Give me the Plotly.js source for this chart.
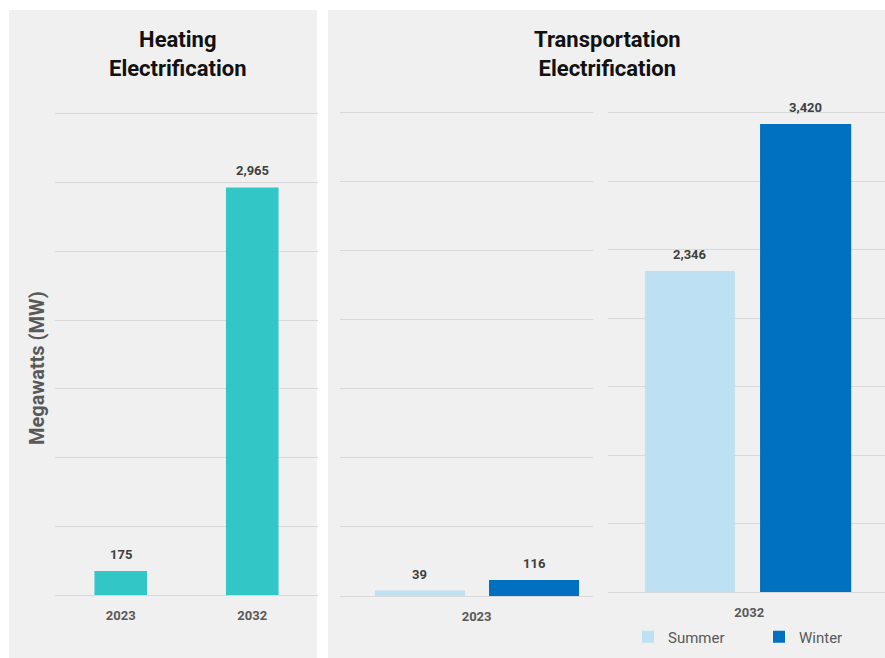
<!DOCTYPE html>
<html>
<head>
<meta charset="utf-8">
<script src="https://cdn.plot.ly/plotly-3.0.1.min.js"></script>
<style>
html,body{margin:0;padding:0;background:#fff;overflow:hidden;}
#chart{display:block;width:885px;height:658px;}
</style>
</head>
<body>
<div id="chart"></div>
<script>
// ---- data ----
const heatingYears = ['2023', '2032'];
const heatingMW = [175, 2965];
const transportYears = ['2023', '2032'];
const summerMW = [39, 2346];
const winterMW = [116, 3420];
const seriesNames = ['Summer', 'Winter'];
const panelTitles = ['Heating<br>Electrification', 'Transportation<br>Electrification'];
const yTitle = 'Megawatts (MW)';

// ---- styling helpers ----
const W = 885, H = 658;
const px = x => x / W;
const py = y => 1 - y / H;
const FONT = 'Roboto, "Open Sans", sans-serif';
const TEAL = '#33C6C6', SUMMER = '#BDE0F3', WINTER = '#0070C0';
const GRID = '#d9d9d9';

// bar geometry (style)
const heatWidth = 0.4;
const g2 = {sOff: -0.402, sW: 0.356, wOff: 0.049, wW: 0.356};
const g3 = {sOff: -0.377, sW: 0.325, wOff: 0.039, wW: 0.329};

const traces = [
  {type: 'bar', x: heatingYears, y: heatingMW, xaxis: 'x', yaxis: 'y', width: heatWidth,
   marker: {color: TEAL}, showlegend: false},
  {type: 'bar', x: [transportYears[0]], y: [summerMW[0]], xaxis: 'x2', yaxis: 'y2',
   offset: g2.sOff, width: g2.sW, marker: {color: SUMMER}, name: seriesNames[0], legendgroup: 's', showlegend: false},
  {type: 'bar', x: [transportYears[0]], y: [winterMW[0]], xaxis: 'x2', yaxis: 'y2',
   offset: g2.wOff, width: g2.wW, marker: {color: WINTER}, name: seriesNames[1], legendgroup: 'w', showlegend: false},
  {type: 'bar', x: [transportYears[1]], y: [summerMW[1]], xaxis: 'x3', yaxis: 'y3',
   offset: g3.sOff, width: g3.sW, marker: {color: SUMMER}, name: seriesNames[0], legendgroup: 's'},
  {type: 'bar', x: [transportYears[1]], y: [winterMW[1]], xaxis: 'x3', yaxis: 'y3',
   offset: g3.wOff, width: g3.wW, marker: {color: WINTER}, name: seriesNames[1], legendgroup: 'w'}
];

const fmt = v => v.toLocaleString('en-US');
const valFont = {family: FONT, size: 13, color: '#404040', weight: 'bold'};
const valueAnn = (x, y, xref, yref) => ({x, y, xref, yref, text: fmt(y), showarrow: false,
  yanchor: 'bottom', yshift: 7, font: valFont});

const annotations = [];
// category axes: positions given by category index
heatingYears.forEach((c, i) => annotations.push(valueAnn(i, heatingMW[i], 'x', 'y')));
annotations.push(valueAnn(g2.sOff + g2.sW / 2, summerMW[0], 'x2', 'y2'));
annotations.push(valueAnn(g2.wOff + g2.wW / 2, winterMW[0], 'x2', 'y2'));
annotations.push(valueAnn(g3.sOff + g3.sW / 2, summerMW[1], 'x3', 'y3'));
annotations.push(valueAnn(g3.wOff + g3.wW / 2, winterMW[1], 'x3', 'y3'));

const titleFont = {family: FONT, size: 22, color: '#111', weight: 'bold'};
annotations.push({text: panelTitles[0], xref: 'paper', yref: 'paper', x: px(178), y: py(54),
  showarrow: false, font: titleFont, align: 'center', xanchor: 'center', yanchor: 'middle'});
annotations.push({text: panelTitles[1], xref: 'paper', yref: 'paper', x: px(607), y: py(54),
  showarrow: false, font: titleFont, align: 'center', xanchor: 'center', yanchor: 'middle'});
annotations.push({text: yTitle, xref: 'paper', yref: 'paper', x: px(37), y: py(368), textangle: -90,
  showarrow: false, font: {family: FONT, size: 20, color: '#595959', weight: 'bold'}, xanchor: 'center', yanchor: 'middle'});

const tickFont = {family: FONT, size: 13, color: '#595959', weight: 'bold'};
const xBase = {type: 'category', showgrid: false, zeroline: false, showline: false, ticks: '',
  tickfont: tickFont, ticklabelstandoff: 11, fixedrange: true};
const yBase = {range: [0, 3520], tickvals: [0, 500, 1000, 1500, 2000, 2500, 3000, 3500], showticklabels: false,
  showgrid: true, gridcolor: GRID, gridwidth: 1, zeroline: true, zerolinecolor: GRID, zerolinewidth: 1,
  ticks: '', fixedrange: true};

const layout = {
  width: W, height: H,
  margin: {l: 0, r: 0, t: 0, b: 0, autoexpand: false},
  paper_bgcolor: '#ffffff', plot_bgcolor: 'rgba(0,0,0,0)',
  barmode: 'overlay',
  font: {family: FONT},
  xaxis: Object.assign({}, xBase, {domain: [px(55), px(318)], range: [-0.5, 1.5], anchor: 'y'}),
  yaxis: Object.assign({}, yBase, {domain: [py(595), py(111.2)], anchor: 'x'}),
  xaxis2: Object.assign({}, xBase, {domain: [px(340), px(593)], range: [-0.54, 0.46], anchor: 'y2'}),
  yaxis2: Object.assign({}, yBase, {domain: [py(596), py(110.2)], anchor: 'x2'}),
  xaxis3: Object.assign({}, xBase, {domain: [px(608), 1], range: [-0.51, 0.49], anchor: 'y3'}),
  yaxis3: Object.assign({}, yBase, {domain: [py(592), py(110.2)], anchor: 'x3'}),
  showlegend: true,
  legend: {orientation: 'h', x: px(628), y: py(637), xanchor: 'left', yanchor: 'middle',
    bgcolor: 'rgba(0,0,0,0)', font: {family: FONT, size: 15, color: '#595959'},
    entrywidth: 86, entrywidthmode: 'pixels', traceorder: 'normal'},
  shapes: [
    {type: 'rect', xref: 'paper', yref: 'paper', x0: px(9), x1: px(317), y0: 0, y1: py(10),
     fillcolor: '#f0f0f0', line: {width: 0}, layer: 'below'},
    {type: 'rect', xref: 'paper', yref: 'paper', x0: px(328), x1: 1, y0: 0, y1: py(10),
     fillcolor: '#f0f0f0', line: {width: 0}, layer: 'below'}
  ],
  annotations: annotations
};

Plotly.newPlot('chart', traces, layout, {displayModeBar: false, staticPlot: true});
</script>
</body>
</html>
